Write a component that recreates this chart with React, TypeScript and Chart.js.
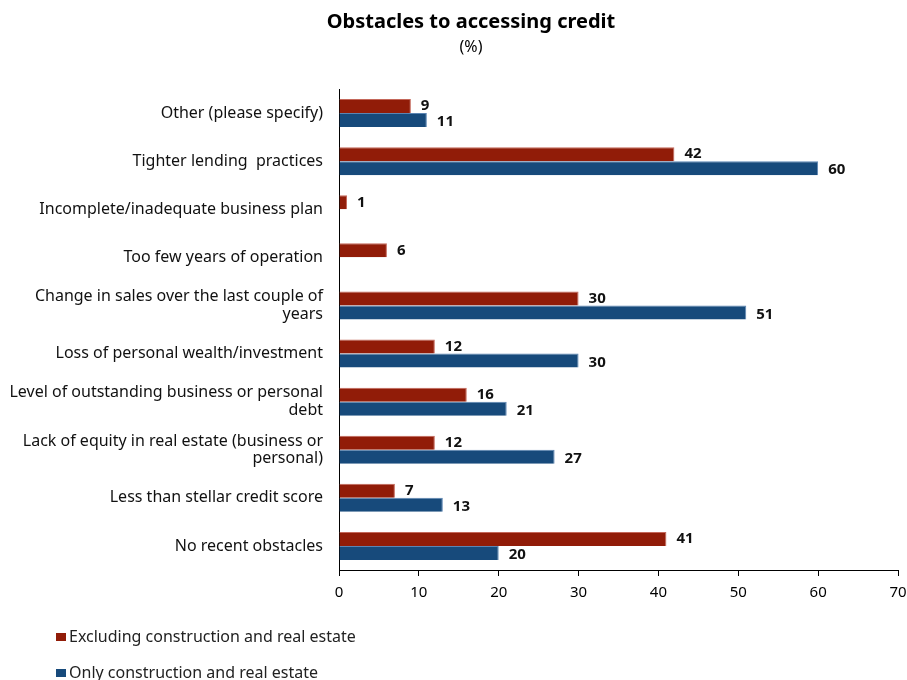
import React, { useEffect, useRef } from "react";
import { Chart, registerables } from "chart.js";

Chart.register(...registerables);

const categories: any[] = [
  "Other (please specify)",
  "Tighter lending  practices",
  "Incomplete/inadequate business plan",
  "Too few years of operation",
  ["Change in sales over the last couple of", "years"],
  "Loss of personal wealth/investment",
  ["Level of outstanding business or personal", "debt"],
  ["Lack of equity in real estate (business or", "personal)"],
  "Less than stellar credit score",
  "No recent obstacles",
];

const excludingValues: (number | null)[] = [9, 42, 1, 6, 30, 12, 16, 12, 7, 41];
const onlyValues: (number | null)[] = [11, 60, null, null, 51, 30, 21, 27, 13, 20];

const seriesNames = ["Excluding construction and real estate", "Only construction and real estate"];
const xTicks = [0, 10, 20, 30, 40, 50, 60, 70];

const titleText = "Obstacles to accessing credit";
const subtitleText = "(%)";

const FONT = "'Noto Sans', sans-serif";
const RED = "#911c08";
const BLUE = "#174a7b";

const overlayPlugin = {
  id: "overlay",
  afterDatasetsDraw(chart: any) {
    const ctx = chart.ctx;
    ctx.save();
    ctx.font = `bold 15px ${FONT}`;
    ctx.fillStyle = "#111";
    ctx.textAlign = "left";
    ctx.textBaseline = "middle";
    chart.data.datasets.forEach((ds: any, di: number) => {
      const meta = chart.getDatasetMeta(di);
      meta.data.forEach((bar: any, i: number) => {
        const v = ds.data[i];
        if (v === null || v === undefined) return;
        ctx.fillText(String(v), bar.x + 10, bar.y + (di === 0 ? 0 : 2));
      });
    });
    ctx.restore();
  },
  afterDraw(chart: any) {
    const ctx = chart.ctx;
    ctx.save();
    ctx.fillStyle = "#000";
    ctx.textAlign = "center";
    ctx.textBaseline = "middle";
    ctx.font = `bold 20px ${FONT}`;
    ctx.fillText(titleText, 471, 22);
    ctx.font = `16px ${FONT}`;
    ctx.fillText(subtitleText, 471, 47);
    ctx.textAlign = "left";
    ctx.font = `16px ${FONT}`;
    const ys = [637, 673];
    chart.data.datasets.forEach((ds: any, di: number) => {
      ctx.fillStyle = ds.backgroundColor;
      ctx.fillRect(56, ys[di] - 4, 10, 8);
      ctx.fillStyle = "#222";
      ctx.fillText(ds.label, 69, ys[di]);
    });
    ctx.restore();
  },
};

export default function App() {
  const ref = useRef<HTMLCanvasElement | null>(null);
  useEffect(() => {
    if (!ref.current) return;
    const chart = new Chart(ref.current, {
      type: "bar",
      data: {
        labels: categories,
        datasets: [
          {
            label: seriesNames[0],
            data: excludingValues,
            backgroundColor: RED,
            borderColor: "#c4675a",
            borderWidth: { top: 1, right: 1, bottom: 0, left: 0 },
            categoryPercentage: 0.583,
            barPercentage: 1,
          },
          {
            label: seriesNames[1],
            data: onlyValues,
            backgroundColor: BLUE,
            borderColor: "#5b85b3",
            borderWidth: { top: 1, right: 1, bottom: 0, left: 0 },
            categoryPercentage: 0.583,
            barPercentage: 1,
          },
        ],
      },
      options: {
        indexAxis: "y",
        animation: false,
        responsive: false,
        maintainAspectRatio: false,
        layout: { padding: { top: 89, bottom: 80, left: 0, right: 0 } },
        plugins: {
          legend: { display: false },
          title: { display: false },
          tooltip: { enabled: false },
        },
        scales: {
          x: {
            min: 0,
            max: 70,
            afterBuildTicks: (scale: any) => {
              scale.ticks = xTicks.map((v) => ({ value: v }));
            },
            afterFit: (scale: any) => {
              scale.height = 30;
              scale.paddingRight = 9;
            },
            grid: {
              drawOnChartArea: false,
              drawTicks: true,
              tickLength: 6,
              color: "#000",
            },
            border: { display: true, color: "#000", width: 1 },
            ticks: {
              color: "#000",
              font: { family: FONT, size: 15 },
              padding: 8,
              maxRotation: 0,
            },
          },
          y: {
            afterFit: (scale: any) => {
              scale.width = 339;
            },
            grid: { drawOnChartArea: false, drawTicks: false },
            border: { display: true, color: "#000", width: 1 },
            ticks: {
              color: "#111",
              font: { family: FONT, size: 16, lineHeight: 1.1 },
              padding: 16,
              crossAlign: "near",
              autoSkip: false,
            },
          },
        },
      },
      plugins: [overlayPlugin],
    } as any);
    return () => chart.destroy();
  }, []);
  return (
    <div style={{ position: "fixed", left: 0, top: 0, width: 907, height: 680, background: "#fff" }}>
      <canvas ref={ref} width={907} height={680} style={{ display: "block" }} />
    </div>
  );
}
